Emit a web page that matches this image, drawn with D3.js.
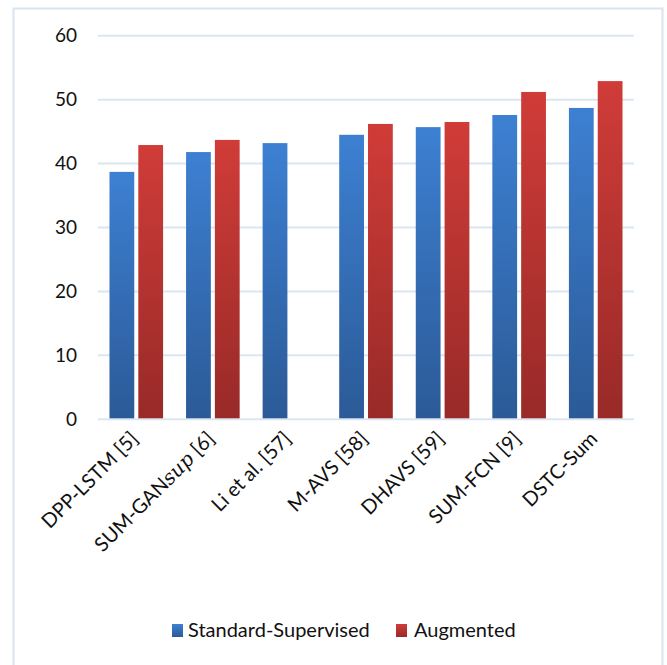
<!DOCTYPE html>
<html>
<head>
<meta charset="utf-8">
<script src="https://cdn.jsdelivr.net/npm/d3@7"></script>
<style>
  html, body { margin: 0; padding: 0; background: #ffffff; }
  svg { display: block; }
  text { font-family: Lato, "Open Sans", sans-serif; fill: #111111; }
</style>
</head>
<body>
<svg id="chart" width="667" height="665"></svg>
<script>
// Summarisation scores per method
const methods = ["DPP-LSTM [5]", "SUM-GANsup [6]", "Li et al. [57]", "M-AVS [58]", "DHAVS [59]", "SUM-FCN [9]", "DSTC-Sum"];
const seriesNames = ["Standard-Supervised", "Augmented"];
const standardSupervised = [38.7, 41.8, 43.2, 44.5, 45.7, 47.6, 48.7];
const augmented = [42.9, 43.7, null, 46.2, 46.5, 51.2, 52.9];
const yTicks = [0, 10, 20, 30, 40, 50, 60];

const seriesValues = [standardSupervised, augmented];
const rows = methods.map((m, i) => ({
  method: m,
  values: seriesNames.map((s, k) => ({ series: s, value: seriesValues[k][i] }))
}));

const svg = d3.select("#chart");

// Gradients for bars (light top, dark bottom)
const defs = svg.append("defs");
const gradStops = {
  "Standard-Supervised": ["#3d80d2", "#2b5a97"],
  "Augmented": ["#d03c38", "#982a28"]
};
const gradId = s => "grad-" + s.replace(/[^a-zA-Z]/g, "");
seriesNames.forEach(s => {
  const g = defs.append("linearGradient")
    .attr("id", gradId(s))
    .attr("x1", 0).attr("y1", 0).attr("x2", 0).attr("y2", 1);
  g.append("stop").attr("offset", "0%").attr("stop-color", gradStops[s][0]);
  g.append("stop").attr("offset", "100%").attr("stop-color", gradStops[s][1]);
});

// Outer frame
svg.append("rect")
  .attr("x", 13.5).attr("y", 8.5)
  .attr("width", 649).attr("height", 670)
  .attr("fill", "none")
  .attr("stroke", "#d9e3f1")
  .attr("stroke-width", 2);

// Scales
const y = d3.scaleLinear().domain([0, 60]).range([419.3, 35.7]);
const x0 = d3.scaleBand().domain(methods).range([98, 634]).paddingInner(0.3).paddingOuter(0.15);
const x1 = d3.scaleBand().domain(seriesNames).range([0, x0.bandwidth()]).paddingInner(0.14);

// Gridlines
svg.append("g")
  .selectAll("line")
  .data(yTicks)
  .join("line")
  .attr("x1", 98).attr("x2", 634)
  .attr("y1", d => y(d)).attr("y2", d => y(d))
  .attr("stroke", "#dce6f2")
  .attr("stroke-width", 2);

// Y axis labels
const yAxis = d3.axisLeft(y).tickValues(yTicks).tickSize(0).tickPadding(0).tickFormat(d3.format("d"));
const yAxisG = svg.append("g").attr("transform", "translate(77,0)").call(yAxis);
yAxisG.select(".domain").remove();
yAxisG.selectAll("text")
  .attr("font-family", "Lato, sans-serif")
  .attr("font-size", 19)
  .attr("fill", "#111111");

// Bars
const groups = svg.append("g")
  .selectAll("g")
  .data(rows)
  .join("g")
  .attr("transform", d => `translate(${x0(d.method)},0)`);

groups.selectAll("rect")
  .data(d => d.values.filter(v => v.value != null))
  .join("rect")
  .attr("x", d => x1(d.series))
  .attr("width", x1.bandwidth())
  .attr("y", d => y(d.value))
  .attr("height", d => y(0) - 1 - y(d.value))
  .attr("fill", d => `url(#${gradId(d.series)})`);

// X labels, rotated
const xLabels = svg.append("g")
  .selectAll("text")
  .data(methods)
  .join("text")
  .attr("transform", d => `translate(${x0(d) + x0.bandwidth() / 2 + 3},440) rotate(-45)`)
  .attr("text-anchor", "end")
  .attr("font-size", 20);

xLabels.each(function (d) {
  const t = d3.select(this);
  if (d === "SUM-GANsup [6]") {
    t.append("tspan").text("SUM-GAN");
    t.append("tspan").text("sup")
      .attr("font-family", "'DejaVu Serif', 'Liberation Serif', serif")
      .attr("font-style", "italic");
    t.append("tspan").text(" [6]");
  } else {
    t.text(d);
  }
});

// Legend
const legendPos = [{ sx: 172, tx: 188 }, { sx: 396, tx: 414 }];
const legend = svg.append("g")
  .selectAll("g")
  .data(seriesNames)
  .join("g");
legend.append("rect")
  .attr("x", (d, i) => legendPos[i].sx)
  .attr("y", 624)
  .attr("width", 11).attr("height", 13)
  .attr("fill", d => `url(#${gradId(d)})`);
legend.append("text")
  .attr("x", (d, i) => legendPos[i].tx)
  .attr("y", 637)
  .attr("font-size", 20)
  .text(d => d);
</script>
</body>
</html>
